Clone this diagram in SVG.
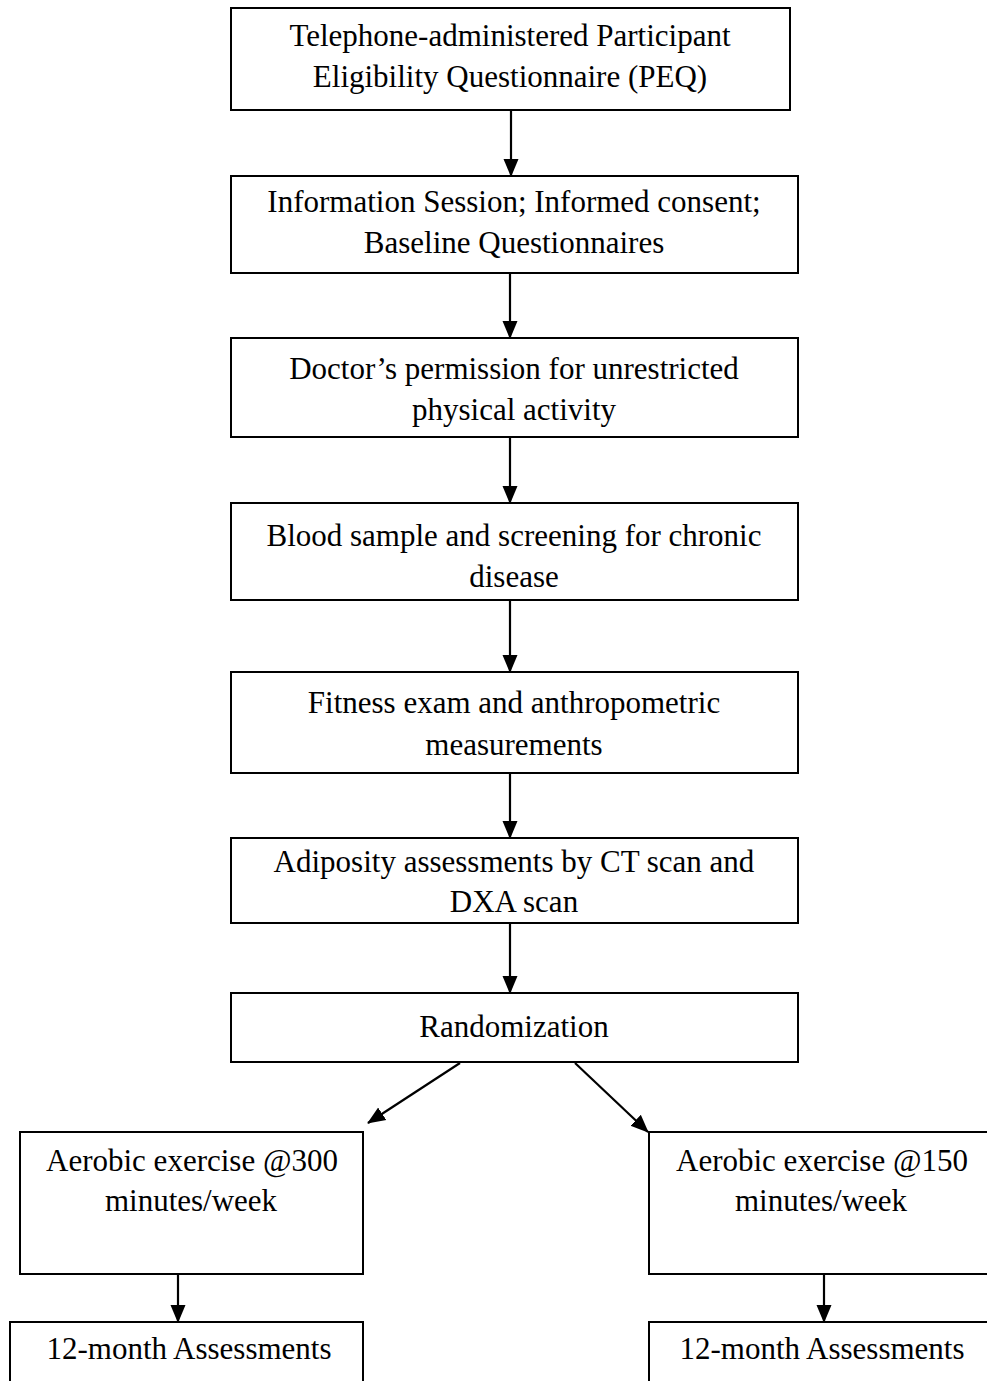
<svg xmlns="http://www.w3.org/2000/svg" width="987" height="1381" viewBox="0 0 987 1381">
<style>
.box{fill:#fff;stroke:#000;stroke-width:2}
.t{font-family:"Liberation Serif","Times New Roman",serif;font-size:31px;fill:#000;text-anchor:middle}
.c{stroke:#000;stroke-width:2.2;fill:none;marker-end:url(#ah)}
</style>
<defs>
<marker id="ah" markerUnits="userSpaceOnUse" markerWidth="18" markerHeight="18" viewBox="0 0 18 18" refX="17" refY="9" orient="auto">
<path d="M0,1.5 L18,9 L0,16.5 Z" fill="#000"/>
</marker>
</defs>
<rect width="987" height="1381" fill="#fff"/>
<g id="n1"><rect class="box" x="231" y="8" width="559" height="102"/>
<text class="t" x="510" y="46">Telephone-administered Participant</text>
<text class="t" x="510" y="87">Eligibility Questionnaire (PEQ)</text></g>
<g id="n2"><rect class="box" x="231" y="176" width="567" height="97"/>
<text class="t" x="514" y="212">Information Session; Informed consent;</text>
<text class="t" x="514" y="253">Baseline Questionnaires</text></g>
<g id="n3"><rect class="box" x="231" y="338" width="567" height="99"/>
<text class="t" x="514" y="379">Doctor’s permission for unrestricted</text>
<text class="t" x="514" y="420">physical activity</text></g>
<g id="n4"><rect class="box" x="231" y="503" width="567" height="97"/>
<text class="t" x="514" y="546">Blood sample and screening for chronic</text>
<text class="t" x="514" y="587">disease</text></g>
<g id="n5"><rect class="box" x="231" y="672" width="567" height="101"/>
<text class="t" x="514" y="713">Fitness exam and anthropometric</text>
<text class="t" x="514" y="755">measurements</text></g>
<g id="n6"><rect class="box" x="231" y="838" width="567" height="85"/>
<text class="t" x="514" y="872">Adiposity assessments by CT scan and</text>
<text class="t" x="514" y="912">DXA scan</text></g>
<g id="n7"><rect class="box" x="231" y="993" width="567" height="69"/>
<text class="t" x="514" y="1037">Randomization</text></g>
<g id="n8"><rect class="box" x="20" y="1132" width="343" height="142"/>
<text class="t" x="192" y="1171">Aerobic exercise @300</text>
<text class="t" x="191" y="1211">minutes/week</text></g>
<g id="n9"><rect class="box" x="649" y="1132" width="345" height="142"/>
<text class="t" x="822" y="1171">Aerobic exercise @150</text>
<text class="t" x="821" y="1211">minutes/week</text></g>
<g id="n10"><rect class="box" x="10" y="1322" width="353" height="70"/>
<text class="t" x="189" y="1359">12-month Assessments</text></g>
<g id="n11"><rect class="box" x="649" y="1322" width="345" height="70"/>
<text class="t" x="822" y="1359">12-month Assessments</text></g>
<g id="connectors">
<line class="c" x1="511" y1="111" x2="511" y2="176"/>
<line class="c" x1="510" y1="274" x2="510" y2="338"/>
<line class="c" x1="510" y1="438" x2="510" y2="503"/>
<line class="c" x1="510" y1="601" x2="510" y2="672"/>
<line class="c" x1="510" y1="774" x2="510" y2="838"/>
<line class="c" x1="510" y1="924" x2="510" y2="993"/>
<line class="c" x1="460" y1="1063" x2="368" y2="1123"/>
<line class="c" x1="575" y1="1063" x2="648" y2="1132"/>
<line class="c" x1="178" y1="1275" x2="178" y2="1322"/>
<line class="c" x1="824" y1="1275" x2="824" y2="1322"/>
</g>
</svg>
